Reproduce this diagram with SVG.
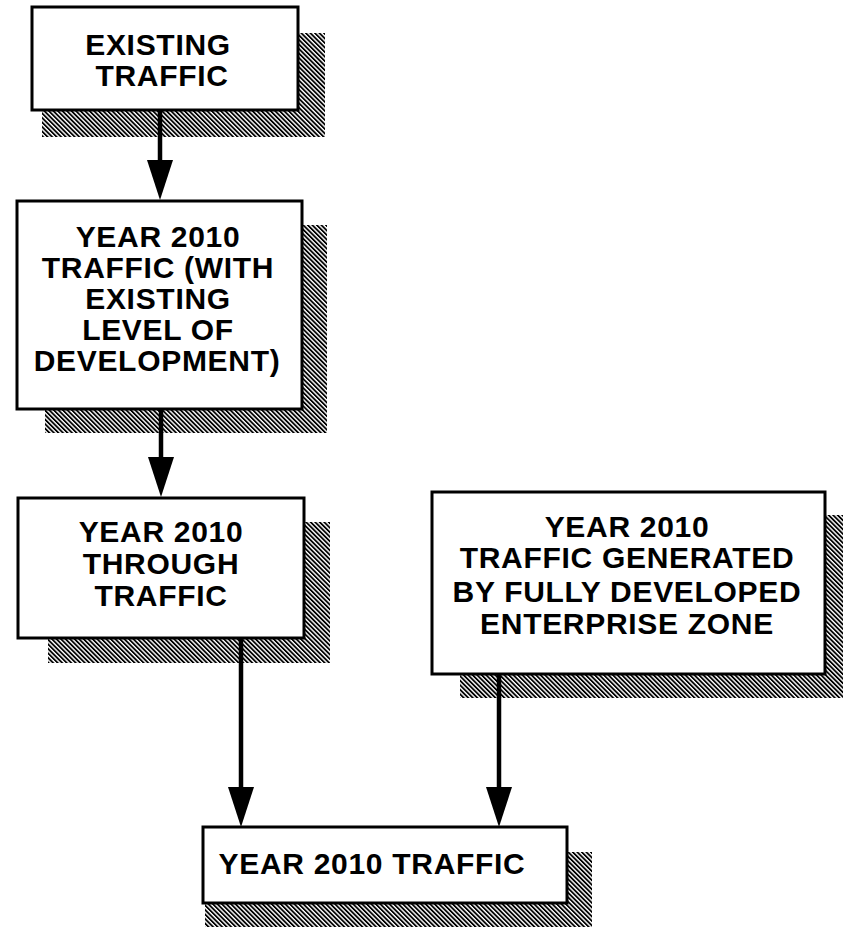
<svg xmlns="http://www.w3.org/2000/svg" width="843" height="928" viewBox="0 0 843 928">
<style>
.box{fill:#fff;stroke:#000;stroke-width:3}
.sh{fill:url(#hatch)}
.t{font-family:"Liberation Sans",Arial,sans-serif;font-weight:bold;font-size:30px;letter-spacing:0.7px;fill:#000;text-anchor:middle}
.c{stroke:#000;stroke-width:4.5;fill:none}
</style>
<defs>
<pattern id="hatch" width="3.2" height="3.2" patternUnits="userSpaceOnUse" patternTransform="rotate(-45)">
<rect width="3.2" height="3.2" fill="#fff"/>
<rect width="1.8" height="3.2" fill="#000"/>
</pattern>
<marker id="ah" markerUnits="userSpaceOnUse" viewBox="0 0 40 26" refX="0" refY="13" markerWidth="40" markerHeight="26" orient="auto">
<polygon points="0,0 40,13 0,26" fill="#000"/>
</marker>
</defs>
<g id="n1">
<rect class="sh" x="42" y="33" width="283" height="104"/>
<rect class="box" x="32" y="7" width="266" height="103"/>
<text class="t" x="158" y="55">EXISTING</text>
<text class="t" x="162" y="86">TRAFFIC</text>
</g>
<g id="n2">
<rect class="sh" x="45" y="225" width="282" height="208"/>
<rect class="box" x="17" y="201" width="285" height="208"/>
<text class="t" x="158" y="247">YEAR 2010</text>
<text class="t" x="158" y="278">TRAFFIC (WITH</text>
<text class="t" x="158" y="309">EXISTING</text>
<text class="t" x="158" y="340">LEVEL OF</text>
<text class="t" x="157" y="371">DEVELOPMENT)</text>
</g>
<g id="n3">
<rect class="sh" x="48" y="522" width="282" height="141"/>
<rect class="box" x="18" y="498" width="286" height="140"/>
<text class="t" x="161" y="542">YEAR 2010</text>
<text class="t" x="161" y="574">THROUGH</text>
<text class="t" x="161" y="606">TRAFFIC</text>
</g>
<g id="n4">
<rect class="sh" x="460" y="515" width="383" height="183"/>
<rect class="box" x="432" y="492" width="393" height="182"/>
<text class="t" x="627" y="537">YEAR 2010</text>
<text class="t" x="627" y="568">TRAFFIC GENERATED</text>
<text class="t" x="627" y="602">BY FULLY DEVELOPED</text>
<text class="t" x="627" y="634">ENTERPRISE ZONE</text>
</g>
<g id="n5">
<rect class="sh" x="205" y="852" width="387" height="75"/>
<rect class="box" x="203" y="827" width="364" height="76"/>
<text class="t" x="372" y="874">YEAR 2010 TRAFFIC</text>
</g>
<g id="connectors">
<line class="c" x1="160" y1="110" x2="160" y2="160" marker-end="url(#ah)"/>
<line class="c" x1="161" y1="410" x2="161" y2="457" marker-end="url(#ah)"/>
<line class="c" x1="241" y1="638" x2="241" y2="787" marker-end="url(#ah)"/>
<line class="c" x1="499" y1="674" x2="499" y2="787" marker-end="url(#ah)"/>
</g>
</svg>
